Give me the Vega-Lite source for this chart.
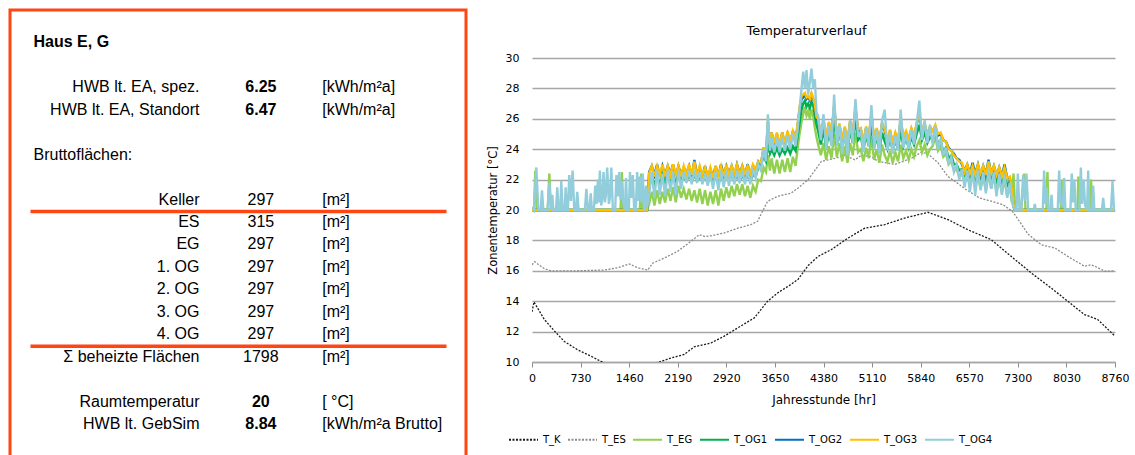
{
  "$schema": "https://vega.github.io/schema/vega-lite/v6.json",
  "background": "white",
  "padding": {"left": 8, "top": 8, "right": 0, "bottom": 0},
  "spacing": 19,
  "resolve": {"scale": {"color": "independent", "strokeDash": "independent"}, "legend": {"color": "independent", "strokeDash": "independent"}},
  "datasets": {
    "tabelle": [
      {"zeile": 0, "art": "kopf", "bezeichnung": "Haus E, G", "fett": true},
      {"zeile": 2, "art": "zeile", "bezeichnung": "HWB lt. EA, spez.", "wert": "6.25", "einheit": "[kWh/m²a]", "fett": true},
      {"zeile": 3, "art": "zeile", "bezeichnung": "HWB lt. EA, Standort", "wert": "6.47", "einheit": "[kWh/m²a]", "fett": true},
      {"zeile": 5, "art": "kopf", "bezeichnung": "Bruttoflächen:", "fett": false},
      {"zeile": 7, "art": "zeile", "bezeichnung": "Keller", "wert": "297", "einheit": "[m²]", "fett": false},
      {"zeile": 8, "art": "zeile", "bezeichnung": "ES", "wert": "315", "einheit": "[m²]", "fett": false, "linie": true},
      {"zeile": 9, "art": "zeile", "bezeichnung": "EG", "wert": "297", "einheit": "[m²]", "fett": false},
      {"zeile": 10, "art": "zeile", "bezeichnung": "1. OG", "wert": "297", "einheit": "[m²]", "fett": false},
      {"zeile": 11, "art": "zeile", "bezeichnung": "2. OG", "wert": "297", "einheit": "[m²]", "fett": false},
      {"zeile": 12, "art": "zeile", "bezeichnung": "3. OG", "wert": "297", "einheit": "[m²]", "fett": false},
      {"zeile": 13, "art": "zeile", "bezeichnung": "4. OG", "wert": "297", "einheit": "[m²]", "fett": false},
      {"zeile": 14, "art": "zeile", "bezeichnung": "Σ beheizte Flächen", "wert": "1798", "einheit": "[m²]", "fett": false, "linie": true},
      {"zeile": 16, "art": "zeile", "bezeichnung": "Raumtemperatur", "wert": "20", "einheit": "[ °C]", "fett": true},
      {"zeile": 17, "art": "zeile", "bezeichnung": "HWB lt. GebSim", "wert": "8.84", "einheit": "[kWh/m²a Brutto]", "fett": true}
    ],
    "aussen": [
      {"h": 0, "T_K": 13.3, "T_ES": 16.4}, {"h": 30, "T_K": 13.95}, {"h": 40, "T_ES": 16.6}, {"h": 85, "T_ES": 16.45},
      {"h": 185, "T_K": 12.8, "T_ES": 16.14}, {"h": 285, "T_ES": 16.0}, {"h": 335, "T_K": 12.05}, {"h": 486, "T_K": 11.35},
      {"h": 686, "T_K": 10.8, "T_ES": 16.0}, {"h": 887, "T_K": 10.38}, {"h": 1037, "T_K": 10.04}, {"h": 1087, "T_ES": 16.05},
      {"h": 1200, "T_K": 9.8}, {"h": 1287, "T_ES": 16.2}, {"h": 1450, "T_K": 9.7}, {"h": 1462, "T_ES": 16.45},
      {"h": 1587, "T_ES": 16.2}, {"h": 1700, "T_K": 9.8}, {"h": 1738, "T_ES": 16.05}, {"h": 1813, "T_ES": 16.5},
      {"h": 1913, "T_K": 10.0}, {"h": 1988, "T_ES": 16.84}, {"h": 2088, "T_K": 10.26}, {"h": 2188, "T_ES": 17.28},
      {"h": 2288, "T_K": 10.5}, {"h": 2388, "T_ES": 17.94}, {"h": 2438, "T_K": 11.0}, {"h": 2513, "T_ES": 18.38},
      {"h": 2600, "T_ES": 18.25}, {"h": 2689, "T_K": 11.25, "T_ES": 18.3}, {"h": 2889, "T_K": 11.7, "T_ES": 18.49},
      {"h": 3090, "T_K": 12.24, "T_ES": 18.8}, {"h": 3290, "T_ES": 19.04}, {"h": 3340, "T_K": 12.9}, {"h": 3390, "T_ES": 19.26},
      {"h": 3450, "T_ES": 19.8}, {"h": 3540, "T_K": 14.0, "T_ES": 20.57}, {"h": 3690, "T_K": 14.54, "T_ES": 20.9},
      {"h": 3890, "T_K": 15.1, "T_ES": 21.1}, {"h": 4000, "T_K": 15.45, "T_ES": 21.45}, {"h": 4150, "T_K": 16.35, "T_ES": 22.0},
      {"h": 4300, "T_K": 16.95}, {"h": 4349, "T_ES": 23.2}, {"h": 4500, "T_K": 17.4}, {"h": 4550, "T_ES": 23.4},
      {"h": 4700, "T_ES": 23.6}, {"h": 4750, "T_K": 18.16}, {"h": 4850, "T_ES": 23.3}, {"h": 4950, "T_ES": 23.6},
      {"h": 5000, "T_K": 18.8}, {"h": 5100, "T_ES": 23.5}, {"h": 5200, "T_ES": 23.2}, {"h": 5300, "T_K": 19.04},
      {"h": 5450, "T_ES": 23.0}, {"h": 5600, "T_K": 19.47}, {"h": 5700, "T_ES": 23.4}, {"h": 5850, "T_ES": 23.8},
      {"h": 5950, "T_K": 19.85, "T_ES": 23.7}, {"h": 6102, "T_ES": 23.1}, {"h": 6250, "T_K": 19.37, "T_ES": 22.2},
      {"h": 6352, "T_ES": 21.9}, {"h": 6503, "T_ES": 21.4}, {"h": 6550, "T_K": 18.7}, {"h": 6720, "T_ES": 20.8},
      {"h": 6900, "T_K": 18.05}, {"h": 7072, "T_ES": 20.36}, {"h": 7200, "T_K": 16.95}, {"h": 7222, "T_ES": 19.9},
      {"h": 7456, "T_ES": 18.4}, {"h": 7500, "T_K": 15.86}, {"h": 7656, "T_ES": 17.7}, {"h": 7800, "T_K": 14.87},
      {"h": 7857, "T_ES": 17.5}, {"h": 8050, "T_K": 14.0, "T_ES": 16.95}, {"h": 8300, "T_K": 13.12, "T_ES": 16.3},
      {"h": 8400, "T_ES": 16.4}, {"h": 8458, "T_ES": 16.3}, {"h": 8500, "T_K": 12.8}, {"h": 8608, "T_ES": 15.97},
      {"h": 8760, "T_K": 11.7, "T_ES": 16.0}
    ],
    "zonen": [
      {"h": 0, "T_EG": 20, "T_OG1": 20, "T_OG2": 20, "T_OG3": 20, "T_OG4": 20.2},
      {"h": 30, "T_EG": 20, "T_OG4": 20}, {"h": 50, "T_EG": 22.6}, {"h": 65, "T_OG4": 22.8}, {"h": 75, "T_EG": 20},
      {"h": 95, "T_OG4": 20}, {"h": 130, "T_OG4": 20}, {"h": 150, "T_OG4": 21.3}, {"h": 170, "T_OG4": 20},
      {"h": 235, "T_EG": 20, "T_OG4": 20}, {"h": 260, "T_EG": 22.4, "T_OG4": 21.8}, {"h": 285, "T_EG": 20, "T_OG4": 20},
      {"h": 305, "T_OG4": 21.0}, {"h": 320, "T_OG4": 20}, {"h": 360, "T_OG4": 20}, {"h": 380, "T_OG4": 21.5},
      {"h": 400, "T_OG4": 20}, {"h": 425, "T_OG4": 20}, {"h": 440, "T_OG4": 21.9}, {"h": 460, "T_OG4": 20},
      {"h": 490, "T_OG4": 20}, {"h": 506, "T_OG4": 21.5}, {"h": 522, "T_OG4": 20}, {"h": 540, "T_OG4": 20},
      {"h": 560, "T_OG4": 22.3}, {"h": 585, "T_OG4": 20.6}, {"h": 610, "T_OG4": 22.6}, {"h": 635, "T_OG4": 20},
      {"h": 660, "T_OG4": 20}, {"h": 680, "T_OG4": 21.2}, {"h": 700, "T_OG4": 20}, {"h": 795, "T_OG4": 20},
      {"h": 817, "T_OG4": 21.4}, {"h": 840, "T_OG4": 20}, {"h": 865, "T_OG4": 20}, {"h": 882, "T_OG4": 21.1},
      {"h": 900, "T_OG4": 20}, {"h": 930, "T_OG4": 20}, {"h": 950, "T_OG4": 21.6}, {"h": 970, "T_OG4": 20.4},
      {"h": 990, "T_OG4": 22.0}, {"h": 1005, "T_OG4": 20.5}, {"h": 1020, "T_OG4": 22.6}, {"h": 1040, "T_OG4": 20.3},
      {"h": 1058, "T_OG4": 20.8}, {"h": 1075, "T_OG4": 22.5}, {"h": 1095, "T_OG4": 20.5}, {"h": 1110, "T_OG4": 21.0},
      {"h": 1130, "T_OG4": 22.8}, {"h": 1155, "T_OG4": 20.4}, {"h": 1170, "T_OG4": 20.8}, {"h": 1192, "T_OG4": 22.8},
      {"h": 1215, "T_OG4": 20}, {"h": 1250, "T_OG4": 20}, {"h": 1268, "T_OG4": 22.3}, {"h": 1290, "T_OG4": 20.9},
      {"h": 1310, "T_OG4": 22.5}, {"h": 1330, "T_EG": 20, "T_OG4": 20.7}, {"h": 1350, "T_EG": 22.5, "T_OG4": 21.9},
      {"h": 1370, "T_EG": 20, "T_OG4": 20.5}, {"h": 1395, "T_OG4": 20}, {"h": 1413, "T_OG4": 22.1}, {"h": 1430, "T_OG4": 20},
      {"h": 1455, "T_OG4": 20}, {"h": 1472, "T_OG4": 22.5}, {"h": 1490, "T_OG4": 20.8}, {"h": 1515, "T_OG4": 22.3},
      {"h": 1535, "T_OG4": 20}, {"h": 1560, "T_OG4": 20}, {"h": 1580, "T_OG4": 22.5}, {"h": 1600, "T_OG4": 20.6},
      {"h": 1620, "T_EG": 20, "T_OG4": 22.2}, {"h": 1640, "T_EG": 22.4}, {"h": 1645, "T_OG4": 20.5}, {"h": 1660, "T_EG": 20},
      {"h": 1665, "T_OG4": 22.4}, {"h": 1685, "T_OG4": 20}, {"h": 1700, "T_OG4": 20}, {"h": 1713, "T_OG4": 21.6},
      {"h": 1730, "T_EG": 20, "T_OG1": 20, "T_OG2": 20, "T_OG3": 20, "T_OG4": 20.2},
      {"h": 1760, "T_EG": 20.4, "T_OG1": 21.8, "T_OG2": 22.5, "T_OG3": 22.4, "T_OG4": 21.0},
      {"h": 1800, "T_EG": 21.2, "T_OG1": 22.2, "T_OG2": 22.9, "T_OG3": 22.9, "T_OG4": 22.5},
      {"h": 1840, "T_EG": 20.3, "T_OG1": 21.6, "T_OG2": 22.3, "T_OG3": 22.2, "T_OG4": 20.8},
      {"h": 1880, "T_EG": 21.3, "T_OG1": 22.2, "T_OG2": 23.0, "T_OG3": 22.9, "T_OG4": 22.6},
      {"h": 1920, "T_EG": 20.4, "T_OG1": 21.7, "T_OG2": 22.2, "T_OG3": 22.3, "T_OG4": 21.0},
      {"h": 1960, "T_EG": 21.2, "T_OG1": 22.3, "T_OG2": 22.9, "T_OG3": 23.0, "T_OG4": 22.4},
      {"h": 2000, "T_EG": 20.5, "T_OG1": 21.8, "T_OG2": 22.3, "T_OG3": 22.2, "T_OG4": 20.9},
      {"h": 2040, "T_EG": 21.4, "T_OG1": 22.3, "T_OG2": 22.9, "T_OG3": 22.9, "T_OG4": 22.6},
      {"h": 2080, "T_EG": 20.6, "T_OG1": 21.8, "T_OG2": 22.4, "T_OG3": 22.3, "T_OG4": 21.2},
      {"h": 2120, "T_EG": 21.5, "T_OG1": 22.3, "T_OG2": 23.0, "T_OG3": 23.0, "T_OG4": 22.5},
      {"h": 2160, "T_EG": 20.5, "T_OG1": 21.9, "T_OG2": 22.2, "T_OG3": 22.3, "T_OG4": 21.0},
      {"h": 2200, "T_EG": 21.6, "T_OG1": 22.3, "T_OG2": 22.9, "T_OG3": 22.9, "T_OG4": 22.6},
      {"h": 2240, "T_EG": 20.8, "T_OG1": 21.9, "T_OG2": 22.3, "T_OG3": 22.2, "T_OG4": 21.4},
      {"h": 2280, "T_EG": 21.4, "T_OG1": 22.2, "T_OG2": 22.8, "T_OG3": 22.9, "T_OG4": 22.5},
      {"h": 2320, "T_EG": 20.7, "T_OG1": 21.9, "T_OG2": 22.4, "T_OG3": 22.3, "T_OG4": 21.8},
      {"h": 2360, "T_EG": 21.4, "T_OG1": 22.3, "T_OG2": 22.9, "T_OG3": 23.0, "T_OG4": 22.6},
      {"h": 2400, "T_EG": 20.6, "T_OG1": 21.9, "T_OG2": 22.2, "T_OG3": 22.3, "T_OG4": 21.7},
      {"h": 2440, "T_EG": 21.3, "T_OG1": 22.3, "T_OG2": 23.3, "T_OG3": 23.2, "T_OG4": 22.6},
      {"h": 2480, "T_EG": 20.5, "T_OG1": 21.9, "T_OG2": 22.3, "T_OG3": 22.2, "T_OG4": 21.8},
      {"h": 2520, "T_EG": 21.4, "T_OG1": 22.2, "T_OG2": 22.8, "T_OG3": 22.9, "T_OG4": 22.5},
      {"h": 2560, "T_EG": 20.4, "T_OG1": 21.9, "T_OG2": 22.2, "T_OG3": 22.3, "T_OG4": 21.7},
      {"h": 2600, "T_EG": 21.3, "T_OG1": 22.2, "T_OG2": 22.9, "T_OG3": 22.8, "T_OG4": 22.4},
      {"h": 2640, "T_EG": 20.3, "T_OG1": 21.8, "T_OG2": 22.1, "T_OG3": 22.2, "T_OG4": 21.6},
      {"h": 2680, "T_EG": 21.2, "T_OG1": 22.2, "T_OG2": 22.7, "T_OG3": 22.8, "T_OG4": 22.4},
      {"h": 2720, "T_EG": 20.4, "T_OG1": 21.8, "T_OG2": 22.2, "T_OG3": 22.1, "T_OG4": 21.4},
      {"h": 2760, "T_EG": 21.3, "T_OG1": 22.2, "T_OG2": 22.9, "T_OG3": 22.9, "T_OG4": 22.5},
      {"h": 2800, "T_EG": 20.3, "T_OG1": 21.7, "T_OG2": 22.2, "T_OG3": 22.3, "T_OG4": 21.3},
      {"h": 2840, "T_EG": 21.4, "T_OG1": 22.3, "T_OG2": 23.0, "T_OG3": 22.9, "T_OG4": 22.6},
      {"h": 2880, "T_EG": 20.6, "T_OG1": 21.8, "T_OG2": 22.3, "T_OG3": 22.2, "T_OG4": 21.5},
      {"h": 2920, "T_EG": 21.5, "T_OG1": 22.3, "T_OG2": 22.9, "T_OG3": 23.0, "T_OG4": 22.6},
      {"h": 2960, "T_EG": 20.8, "T_OG1": 21.9, "T_OG2": 22.4, "T_OG3": 22.3, "T_OG4": 21.6},
      {"h": 3000, "T_EG": 21.6, "T_OG1": 22.3, "T_OG2": 22.9, "T_OG3": 22.9, "T_OG4": 22.6},
      {"h": 3040, "T_EG": 20.9, "T_OG1": 21.9, "T_OG2": 22.3, "T_OG3": 22.4, "T_OG4": 21.7},
      {"h": 3080, "T_EG": 21.7, "T_OG1": 22.3, "T_OG2": 23.0, "T_OG3": 23.0, "T_OG4": 22.6},
      {"h": 3120, "T_EG": 21.0, "T_OG1": 21.9, "T_OG2": 22.4, "T_OG3": 22.3, "T_OG4": 21.8},
      {"h": 3160, "T_EG": 21.7, "T_OG1": 22.3, "T_OG2": 22.9, "T_OG3": 22.9, "T_OG4": 22.6},
      {"h": 3200, "T_EG": 20.9, "T_OG1": 21.9, "T_OG2": 22.3, "T_OG3": 22.4, "T_OG4": 21.7},
      {"h": 3240, "T_EG": 21.6, "T_OG1": 22.3, "T_OG2": 23.0, "T_OG3": 22.9, "T_OG4": 22.6},
      {"h": 3280, "T_EG": 20.8, "T_OG1": 21.9, "T_OG2": 22.3, "T_OG3": 22.4, "T_OG4": 21.7},
      {"h": 3320, "T_EG": 21.6, "T_OG1": 22.3, "T_OG2": 22.9, "T_OG3": 23.0, "T_OG4": 22.6},
      {"h": 3360, "T_EG": 21.2, "T_OG1": 22.2, "T_OG2": 22.6, "T_OG3": 22.6, "T_OG4": 22.1},
      {"h": 3400, "T_EG": 22.0, "T_OG1": 22.8, "T_OG2": 23.2, "T_OG3": 23.2, "T_OG4": 23.0},
      {"h": 3440, "T_EG": 21.9, "T_OG1": 23.0, "T_OG2": 23.0, "T_OG3": 23.1, "T_OG4": 22.6},
      {"h": 3480, "T_EG": 22.8, "T_OG1": 23.5, "T_OG2": 24.1, "T_OG3": 24.1, "T_OG4": 24.0},
      {"h": 3515, "T_EG": 22.5, "T_OG1": 23.2, "T_OG2": 23.5, "T_OG3": 23.6, "T_OG4": 23.2},
      {"h": 3545, "T_EG": 23.6, "T_OG1": 24.4, "T_OG2": 25.8, "T_OG3": 25.9, "T_OG4": 26.3},
      {"h": 3575, "T_EG": 22.6, "T_OG1": 23.7, "T_OG2": 24.2, "T_OG3": 24.3, "T_OG4": 23.9},
      {"h": 3600, "T_EG": 23.4, "T_OG1": 24.0, "T_OG2": 25.1, "T_OG3": 25.1, "T_OG4": 24.8},
      {"h": 3640, "T_EG": 22.4, "T_OG1": 23.6, "T_OG2": 24.3, "T_OG3": 24.4, "T_OG4": 23.8},
      {"h": 3680, "T_EG": 23.3, "T_OG1": 24.1, "T_OG2": 25.0, "T_OG3": 25.1, "T_OG4": 24.8},
      {"h": 3720, "T_EG": 22.4, "T_OG1": 23.6, "T_OG2": 24.2, "T_OG3": 24.3, "T_OG4": 23.8},
      {"h": 3760, "T_EG": 23.3, "T_OG1": 24.0, "T_OG2": 25.1, "T_OG3": 25.1, "T_OG4": 24.8},
      {"h": 3800, "T_EG": 22.5, "T_OG1": 23.7, "T_OG2": 24.3, "T_OG3": 24.4, "T_OG4": 23.9},
      {"h": 3840, "T_EG": 23.4, "T_OG1": 24.1, "T_OG2": 25.0, "T_OG3": 25.2, "T_OG4": 24.9},
      {"h": 3880, "T_EG": 22.5, "T_OG1": 23.7, "T_OG2": 24.4, "T_OG3": 24.5, "T_OG4": 24.0},
      {"h": 3920, "T_EG": 23.5, "T_OG1": 24.2, "T_OG2": 25.2, "T_OG3": 25.2, "T_OG4": 25.0},
      {"h": 3960, "T_EG": 22.9, "T_OG1": 23.9, "T_OG2": 24.6, "T_OG3": 24.7, "T_OG4": 24.2},
      {"h": 3990, "T_EG": 24.0, "T_OG1": 24.8, "T_OG2": 25.5, "T_OG3": 25.6, "T_OG4": 25.2},
      {"h": 4020, "T_EG": 25.0, "T_OG1": 25.7, "T_OG2": 26.6, "T_OG3": 26.8, "T_OG4": 26.6},
      {"h": 4050, "T_EG": 25.8, "T_OG1": 26.6, "T_OG2": 27.3, "T_OG3": 27.5, "T_OG4": 28.0},
      {"h": 4075, "T_EG": 26.3, "T_OG1": 27.0, "T_OG2": 27.4, "T_OG3": 27.6, "T_OG4": 29.1},
      {"h": 4100, "T_EG": 26.8, "T_OG1": 27.2, "T_OG2": 27.6, "T_OG3": 27.7, "T_OG4": 28.0},
      {"h": 4125, "T_EG": 26.2, "T_OG1": 26.8, "T_OG2": 27.3, "T_OG3": 27.4, "T_OG4": 29.2},
      {"h": 4150, "T_EG": 26.5, "T_OG1": 27.0, "T_OG2": 27.4, "T_OG3": 27.5, "T_OG4": 27.6},
      {"h": 4175, "T_EG": 26.0, "T_OG1": 26.7, "T_OG2": 27.2, "T_OG3": 27.3, "T_OG4": 28.4},
      {"h": 4200, "T_EG": 26.6, "T_OG1": 27.1, "T_OG2": 27.6, "T_OG3": 27.7, "T_OG4": 29.3},
      {"h": 4225, "T_EG": 26.2, "T_OG1": 26.9, "T_OG2": 27.3, "T_OG3": 27.4, "T_OG4": 28.0},
      {"h": 4250, "T_EG": 25.4, "T_OG1": 26.2, "T_OG2": 26.8, "T_OG3": 26.9, "T_OG4": 28.6},
      {"h": 4275, "T_EG": 24.8, "T_OG1": 25.6, "T_OG2": 26.0, "T_OG3": 26.1, "T_OG4": 26.4},
      {"h": 4300, "T_EG": 24.3, "T_OG1": 25.2, "T_OG2": 25.9, "T_OG3": 26.0, "T_OG4": 26.2},
      {"h": 4340, "T_EG": 23.6, "T_OG1": 24.3, "T_OG2": 24.8, "T_OG3": 24.9, "T_OG4": 24.6},
      {"h": 4380, "T_EG": 24.4, "T_OG1": 25.3, "T_OG2": 25.9, "T_OG3": 26.0, "T_OG4": 26.3},
      {"h": 4420, "T_EG": 23.3, "T_OG1": 24.1, "T_OG2": 24.6, "T_OG3": 24.7, "T_OG4": 24.0},
      {"h": 4460, "T_EG": 24.2, "T_OG1": 25.0, "T_OG2": 25.7, "T_OG3": 25.8, "T_OG4": 25.6},
      {"h": 4500, "T_EG": 23.4, "T_OG1": 24.4, "T_OG2": 25.0, "T_OG3": 25.1, "T_OG4": 24.2},
      {"h": 4540, "T_EG": 25.0, "T_OG1": 26.0, "T_OG2": 26.8, "T_OG3": 26.9, "T_OG4": 27.6},
      {"h": 4580, "T_EG": 23.5, "T_OG1": 24.3, "T_OG2": 24.8, "T_OG3": 24.9, "T_OG4": 24.2},
      {"h": 4620, "T_EG": 24.4, "T_OG1": 25.2, "T_OG2": 25.6, "T_OG3": 25.7, "T_OG4": 25.6},
      {"h": 4660, "T_EG": 23.2, "T_OG1": 24.0, "T_OG2": 24.5, "T_OG3": 24.6, "T_OG4": 23.7},
      {"h": 4700, "T_EG": 24.2, "T_OG1": 25.0, "T_OG2": 25.4, "T_OG3": 25.5, "T_OG4": 25.3},
      {"h": 4740, "T_EG": 23.1, "T_OG1": 23.9, "T_OG2": 24.4, "T_OG3": 24.5, "T_OG4": 23.6},
      {"h": 4780, "T_EG": 24.4, "T_OG1": 25.3, "T_OG2": 25.8, "T_OG3": 25.9, "T_OG4": 25.9},
      {"h": 4820, "T_EG": 23.6, "T_OG1": 24.4, "T_OG2": 24.9, "T_OG3": 25.0, "T_OG4": 24.4},
      {"h": 4860, "T_EG": 25.1, "T_OG1": 26.0, "T_OG2": 26.7, "T_OG3": 26.8, "T_OG4": 27.3},
      {"h": 4900, "T_EG": 23.8, "T_OG1": 24.6, "T_OG2": 25.2, "T_OG3": 25.3, "T_OG4": 24.8},
      {"h": 4940, "T_EG": 24.0, "T_OG1": 24.8, "T_OG2": 25.3, "T_OG3": 25.4, "T_OG4": 25.2},
      {"h": 4980, "T_EG": 23.2, "T_OG1": 24.0, "T_OG2": 24.4, "T_OG3": 24.5, "T_OG4": 23.8},
      {"h": 5020, "T_EG": 24.1, "T_OG1": 24.9, "T_OG2": 25.4, "T_OG3": 25.5, "T_OG4": 25.4},
      {"h": 5060, "T_EG": 23.4, "T_OG1": 24.2, "T_OG2": 24.7, "T_OG3": 24.8, "T_OG4": 24.2},
      {"h": 5100, "T_EG": 24.8, "T_OG1": 25.6, "T_OG2": 26.3, "T_OG3": 26.4, "T_OG4": 26.9},
      {"h": 5140, "T_EG": 23.3, "T_OG1": 24.1, "T_OG2": 24.6, "T_OG3": 24.7, "T_OG4": 24.0},
      {"h": 5180, "T_EG": 24.0, "T_OG1": 24.8, "T_OG2": 25.3, "T_OG3": 25.4, "T_OG4": 25.3},
      {"h": 5220, "T_EG": 23.1, "T_OG1": 23.9, "T_OG2": 24.4, "T_OG3": 24.5, "T_OG4": 23.7},
      {"h": 5260, "T_EG": 24.3, "T_OG1": 25.1, "T_OG2": 25.7, "T_OG3": 25.8, "T_OG4": 25.9},
      {"h": 5300, "T_EG": 23.6, "T_OG1": 24.5, "T_OG2": 25.2, "T_OG3": 25.3, "T_OG4": 26.6},
      {"h": 5340, "T_EG": 23.2, "T_OG1": 24.0, "T_OG2": 24.5, "T_OG3": 24.6, "T_OG4": 23.9},
      {"h": 5380, "T_EG": 23.9, "T_OG1": 24.7, "T_OG2": 25.2, "T_OG3": 25.3, "T_OG4": 25.1},
      {"h": 5420, "T_EG": 23.1, "T_OG1": 23.9, "T_OG2": 24.3, "T_OG3": 24.4, "T_OG4": 23.7},
      {"h": 5460, "T_EG": 23.8, "T_OG1": 24.6, "T_OG2": 25.0, "T_OG3": 25.1, "T_OG4": 24.9},
      {"h": 5500, "T_EG": 23.2, "T_OG1": 24.0, "T_OG2": 24.5, "T_OG3": 24.6, "T_OG4": 23.9},
      {"h": 5540, "T_EG": 24.3, "T_OG1": 25.2, "T_OG2": 25.9, "T_OG3": 26.0, "T_OG4": 26.6},
      {"h": 5580, "T_EG": 23.4, "T_OG1": 24.2, "T_OG2": 24.7, "T_OG3": 24.8, "T_OG4": 24.1},
      {"h": 5620, "T_EG": 23.9, "T_OG1": 24.7, "T_OG2": 25.1, "T_OG3": 25.2, "T_OG4": 25.0},
      {"h": 5660, "T_EG": 23.3, "T_OG1": 24.1, "T_OG2": 24.6, "T_OG3": 24.7, "T_OG4": 24.0},
      {"h": 5700, "T_EG": 24.0, "T_OG1": 24.8, "T_OG2": 25.3, "T_OG3": 25.4, "T_OG4": 25.3},
      {"h": 5740, "T_EG": 23.5, "T_OG1": 24.3, "T_OG2": 24.8, "T_OG3": 24.9, "T_OG4": 24.3},
      {"h": 5780, "T_EG": 24.2, "T_OG1": 25.0, "T_OG2": 25.6, "T_OG3": 25.7, "T_OG4": 25.7},
      {"h": 5820, "T_EG": 24.6, "T_OG1": 25.6, "T_OG2": 26.4, "T_OG3": 26.5, "T_OG4": 27.2},
      {"h": 5860, "T_EG": 23.8, "T_OG1": 24.6, "T_OG2": 25.0, "T_OG3": 25.1, "T_OG4": 24.6},
      {"h": 5900, "T_EG": 24.3, "T_OG1": 25.1, "T_OG2": 25.6, "T_OG3": 25.7, "T_OG4": 25.9},
      {"h": 5940, "T_EG": 23.6, "T_OG1": 24.4, "T_OG2": 24.9, "T_OG3": 25.0, "T_OG4": 24.4},
      {"h": 5980, "T_EG": 24.0, "T_OG1": 24.8, "T_OG2": 25.4, "T_OG3": 25.5, "T_OG4": 25.6},
      {"h": 6020, "T_EG": 24.2, "T_OG1": 24.6, "T_OG2": 25.2, "T_OG3": 25.2, "T_OG4": 24.3},
      {"h": 6060, "T_EG": 24.8, "T_OG1": 25.2, "T_OG2": 25.5, "T_OG3": 25.6, "T_OG4": 25.5},
      {"h": 6100, "T_EG": 23.9, "T_OG1": 24.3, "T_OG2": 24.9, "T_OG3": 25.0, "T_OG4": 24.0},
      {"h": 6140, "T_EG": 24.2, "T_OG1": 24.6, "T_OG2": 25.0, "T_OG3": 25.1, "T_OG4": 24.7},
      {"h": 6180, "T_EG": 23.5, "T_OG1": 23.8, "T_OG2": 24.6, "T_OG3": 24.6, "T_OG4": 23.6},
      {"h": 6220, "T_EG": 23.7, "T_OG1": 24.1, "T_OG2": 24.5, "T_OG3": 24.5, "T_OG4": 24.1},
      {"h": 6260, "T_EG": 23.0, "T_OG1": 23.4, "T_OG2": 24.1, "T_OG3": 24.0, "T_OG4": 23.0},
      {"h": 6300, "T_EG": 23.2, "T_OG1": 23.6, "T_OG2": 23.9, "T_OG3": 23.9, "T_OG4": 23.5},
      {"h": 6340, "T_EG": 22.6, "T_OG1": 23.0, "T_OG2": 23.7, "T_OG3": 23.6, "T_OG4": 22.5},
      {"h": 6380, "T_EG": 22.7, "T_OG1": 23.0, "T_OG2": 23.4, "T_OG3": 23.4, "T_OG4": 23.0},
      {"h": 6420, "T_EG": 22.2, "T_OG1": 22.6, "T_OG2": 23.3, "T_OG3": 23.2, "T_OG4": 22.0},
      {"h": 6460, "T_EG": 22.4, "T_OG1": 22.7, "T_OG2": 23.0, "T_OG3": 23.1, "T_OG4": 22.7},
      {"h": 6500, "T_EG": 21.8, "T_OG1": 22.3, "T_OG2": 22.6, "T_OG3": 22.5, "T_OG4": 21.5},
      {"h": 6540, "T_EG": 22.3, "T_OG1": 22.6, "T_OG2": 23.0, "T_OG3": 23.0, "T_OG4": 22.6},
      {"h": 6580, "T_EG": 21.6, "T_OG1": 22.2, "T_OG2": 22.4, "T_OG3": 22.4, "T_OG4": 21.2},
      {"h": 6620, "T_EG": 22.3, "T_OG1": 22.6, "T_OG2": 23.1, "T_OG3": 22.9, "T_OG4": 22.6},
      {"h": 6660, "T_EG": 21.5, "T_OG1": 22.1, "T_OG2": 22.4, "T_OG3": 22.3, "T_OG4": 21.0},
      {"h": 6700, "T_EG": 22.3, "T_OG1": 22.6, "T_OG2": 23.0, "T_OG3": 23.0, "T_OG4": 22.6},
      {"h": 6740, "T_EG": 21.4, "T_OG1": 22.0, "T_OG2": 22.3, "T_OG3": 22.4, "T_OG4": 21.3},
      {"h": 6780, "T_EG": 22.2, "T_OG1": 22.5, "T_OG2": 22.9, "T_OG3": 22.9, "T_OG4": 22.5},
      {"h": 6820, "T_EG": 21.3, "T_OG1": 22.0, "T_OG2": 22.4, "T_OG3": 22.3, "T_OG4": 21.1},
      {"h": 6860, "T_EG": 22.4, "T_OG1": 22.7, "T_OG2": 23.3, "T_OG3": 23.2, "T_OG4": 22.7},
      {"h": 6900, "T_EG": 21.4, "T_OG1": 22.0, "T_OG2": 22.4, "T_OG3": 22.4, "T_OG4": 21.4},
      {"h": 6940, "T_EG": 22.2, "T_OG1": 22.5, "T_OG2": 22.9, "T_OG3": 22.9, "T_OG4": 22.5},
      {"h": 6980, "T_EG": 21.2, "T_OG1": 21.9, "T_OG2": 22.3, "T_OG3": 22.3, "T_OG4": 20.9},
      {"h": 7020, "T_EG": 22.1, "T_OG1": 22.4, "T_OG2": 22.8, "T_OG3": 22.8, "T_OG4": 22.4},
      {"h": 7060, "T_EG": 21.1, "T_OG1": 21.8, "T_OG2": 22.2, "T_OG3": 22.2, "T_OG4": 21.0},
      {"h": 7100, "T_EG": 22.0, "T_OG1": 22.3, "T_OG2": 23.0, "T_OG3": 22.8, "T_OG4": 22.4},
      {"h": 7140, "T_EG": 20.9, "T_OG1": 21.6, "T_OG2": 22.1, "T_OG3": 22.1, "T_OG4": 20.8},
      {"h": 7180, "T_EG": 21.6, "T_OG1": 21.9, "T_OG2": 22.1, "T_OG3": 22.2, "T_OG4": 21.8},
      {"h": 7210, "T_EG": 20.5, "T_OG1": 20.8, "T_OG2": 21.2, "T_OG3": 21.4, "T_OG4": 20.6},
      {"h": 7235, "T_EG": 22.4, "T_OG1": 20.2, "T_OG2": 20.3, "T_OG3": 20.4, "T_OG4": 20.2},
      {"h": 7260, "T_EG": 20, "T_OG1": 20, "T_OG2": 20, "T_OG3": 20, "T_OG4": 20},
      {"h": 7280, "T_OG4": 20}, {"h": 7300, "T_OG4": 22.4}, {"h": 7325, "T_OG4": 20}, {"h": 7350, "T_EG": 20, "T_OG4": 20},
      {"h": 7380, "T_OG4": 22.3}, {"h": 7395, "T_EG": 22.4}, {"h": 7405, "T_OG4": 20.6}, {"h": 7415, "T_EG": 20},
      {"h": 7430, "T_OG4": 22.4}, {"h": 7455, "T_OG4": 20}, {"h": 7540, "T_OG4": 20}, {"h": 7555, "T_OG4": 20.4},
      {"h": 7570, "T_OG4": 20}, {"h": 7675, "T_OG4": 20}, {"h": 7695, "T_OG4": 22.6}, {"h": 7715, "T_OG4": 20.4},
      {"h": 7730, "T_EG": 20}, {"h": 7735, "T_OG4": 21.5}, {"h": 7745, "T_EG": 22.5}, {"h": 7755, "T_OG4": 20},
      {"h": 7760, "T_EG": 20}, {"h": 7790, "T_OG4": 20}, {"h": 7806, "T_OG4": 21.0}, {"h": 7820, "T_OG4": 20},
      {"h": 7900, "T_OG4": 20}, {"h": 7921, "T_OG4": 22.6}, {"h": 7940, "T_OG4": 20.5}, {"h": 7945, "T_EG": 20},
      {"h": 7960, "T_EG": 22.0}, {"h": 7975, "T_EG": 20, "T_OG4": 20.3}, {"h": 7996, "T_OG4": 22.1}, {"h": 8015, "T_OG4": 20},
      {"h": 8090, "T_OG4": 20}, {"h": 8110, "T_OG4": 22.4}, {"h": 8130, "T_OG4": 20.5}, {"h": 8150, "T_OG4": 22.0},
      {"h": 8170, "T_OG4": 20}, {"h": 8195, "T_EG": 20}, {"h": 8210, "T_EG": 22.2}, {"h": 8225, "T_EG": 20, "T_OG4": 20},
      {"h": 8247, "T_OG4": 22.8}, {"h": 8265, "T_OG4": 20.4}, {"h": 8290, "T_OG4": 22.0}, {"h": 8310, "T_OG4": 20.3},
      {"h": 8340, "T_OG4": 20}, {"h": 8357, "T_OG4": 22.6}, {"h": 8375, "T_OG4": 20}, {"h": 8385, "T_EG": 20},
      {"h": 8400, "T_EG": 22.0}, {"h": 8415, "T_EG": 20, "T_OG4": 20}, {"h": 8432, "T_OG4": 21.6}, {"h": 8450, "T_OG4": 20},
      {"h": 8565, "T_OG4": 20}, {"h": 8582, "T_OG4": 20.8}, {"h": 8600, "T_OG4": 20}, {"h": 8700, "T_OG4": 20},
      {"h": 8723, "T_OG4": 21.9}, {"h": 8745, "T_OG4": 20},
      {"h": 8760, "T_EG": 20, "T_OG1": 20, "T_OG2": 20, "T_OG3": 20, "T_OG4": 20}
    ]
  },
  "hconcat": [
    {
      "width": 456,
      "height": 460,
      "view": {"stroke": "#ff4512", "strokeWidth": 3},
      "data": {"name": "tabelle"},
      "encoding": {
        "y": {"field": "zeile", "type": "quantitative", "scale": {"domain": [0, 18], "range": [21.9, 426], "nice": false, "zero": false}, "axis": null}
      },
      "layer": [
        {
          "transform": [{"filter": "datum.linie === true"}],
          "mark": {"type": "rule", "color": "#ff4512", "strokeWidth": 3.5, "xOffset": -169, "x2Offset": 124.3},
          "encoding": {
            "x": {"datum": "Bezeichnung", "type": "nominal", "scale": {"type": "point", "domain": ["Bezeichnung", "Wert", "Einheit"], "range": [189.5, 312.2], "padding": 0}, "axis": null},
            "x2": {"datum": "Einheit"}
          }
        },
        {
          "transform": [{"filter": "datum.art === 'kopf' && datum.fett"}],
          "mark": {"type": "text", "font": "Liberation Sans", "fontSize": 16, "fontWeight": "bold", "align": "left", "baseline": "alphabetic", "dx": -166, "dy": 15.45, "color": "#000000"},
          "encoding": {"x": {"datum": "Bezeichnung", "type": "nominal"}, "text": {"field": "bezeichnung"}}
        },
        {
          "transform": [{"filter": "datum.art === 'kopf' && !datum.fett"}],
          "mark": {"type": "text", "font": "Liberation Sans", "fontSize": 16, "align": "left", "baseline": "alphabetic", "dx": -166, "dy": 15.45, "color": "#000000"},
          "encoding": {"x": {"datum": "Bezeichnung", "type": "nominal"}, "text": {"field": "bezeichnung"}}
        },
        {
          "transform": [{"filter": "datum.art === 'zeile'"}],
          "mark": {"type": "text", "font": "Liberation Sans", "fontSize": 16, "align": "right", "baseline": "alphabetic", "dy": 15.45, "color": "#000000"},
          "encoding": {"x": {"datum": "Bezeichnung", "type": "nominal"}, "text": {"field": "bezeichnung"}}
        },
        {
          "transform": [{"filter": "datum.art === 'zeile' && datum.fett"}],
          "mark": {"type": "text", "font": "Liberation Sans", "fontSize": 16, "fontWeight": "bold", "align": "center", "baseline": "alphabetic", "dy": 15.45, "color": "#000000"},
          "encoding": {"x": {"datum": "Wert", "type": "nominal"}, "text": {"field": "wert"}}
        },
        {
          "transform": [{"filter": "datum.art === 'zeile' && !datum.fett"}],
          "mark": {"type": "text", "font": "Liberation Sans", "fontSize": 16, "align": "center", "baseline": "alphabetic", "dy": 15.45, "color": "#000000"},
          "encoding": {"x": {"datum": "Wert", "type": "nominal"}, "text": {"field": "wert"}}
        },
        {
          "transform": [{"filter": "datum.art === 'zeile'"}],
          "mark": {"type": "text", "font": "Liberation Sans", "fontSize": 16, "align": "left", "baseline": "alphabetic", "dy": 15.45, "color": "#000000"},
          "encoding": {"x": {"datum": "Einheit", "type": "nominal"}, "text": {"field": "einheit"}}
        }
      ]
    },
    {
      "spacing": 0,
      "resolve": {"scale": {"color": "independent", "strokeDash": "independent"}, "legend": {"color": "independent", "strokeDash": "independent"}},
      "vconcat": [
        {
          "width": 583,
          "height": 14.2,
          "data": {"values": []},
          "mark": "point"
        },
        {
          "width": 583,
          "height": 304,
          "title": {"text": "Temperaturverlauf", "font": "DejaVu Sans", "fontSize": 13, "fontWeight": "normal", "color": "#000000", "lineHeight": 15.5, "offset": 13.7, "dx": -17, "anchor": "middle"},
          "encoding": {
            "x": {
              "field": "h", "type": "quantitative",
              "scale": {"domain": [0, 8760], "nice": false, "zero": false},
              "axis": {
                "title": "Jahresstunde [hr]",
                "values": [0, 730, 1460, 2190, 2920, 3650, 4380, 5110, 5840, 6570, 7300, 8030, 8760],
                "format": "d", "grid": false, "domain": true, "domainColor": "#a6a6a6", "domainWidth": 1.5,
                "ticks": true, "tickColor": "#8c8c8c", "tickSize": 5, "tickWidth": 1,
                "labelFont": "DejaVu Sans", "labelFontSize": 11, "labelColor": "#000000", "labelPadding": 5,
                "labelFlush": false, "labelOverlap": false,
                "titleFont": "DejaVu Sans", "titleFontSize": 12, "titleFontWeight": "normal", "titleColor": "#000000", "titlePadding": 11
              }
            },
            "y": {
              "field": "t", "type": "quantitative",
              "scale": {"domain": [10, 30], "nice": false, "zero": false},
              "axis": {
                "title": "Zonentemperatur [°C]",
                "values": [10, 12, 14, 16, 18, 20, 22, 24, 26, 28, 30],
                "grid": true, "gridColor": "#a6a6a6", "gridWidth": 1.5, "domain": false, "ticks": false,
                "labelFont": "DejaVu Sans", "labelFontSize": 11, "labelColor": "#000000", "labelPadding": 13,
                "titleFont": "DejaVu Sans", "titleFontSize": 11.5, "titleFontWeight": "normal", "titleColor": "#000000", "titlePadding": 7
              }
            },
            "color": {
              "field": "serie", "type": "nominal",
              "scale": {
                "domain": ["T_K", "T_ES", "T_EG", "T_OG1", "T_OG2", "T_OG3", "T_OG4"],
                "range": ["#1a1a1a", "#8c8c8c", "#92d050", "#00b050", "#0070c0", "#ffc000", "#92cddc"]
              },
              "legend": {"title": null}
            },
            "strokeDash": {
              "field": "serie", "type": "nominal",
              "scale": {
                "domain": ["T_K", "T_ES", "T_EG", "T_OG1", "T_OG2", "T_OG3", "T_OG4"],
                "range": [[2, 1.5], [2, 1.5], [1, 0], [1, 0], [1, 0], [1, 0], [1, 0]]
              },
              "legend": {"title": null}
            }
          },
          "layer": [
            {
              "data": {"name": "aussen"},
              "transform": [{"fold": ["T_K", "T_ES"], "as": ["serie", "t"]}, {"filter": "datum.t != null"}],
              "mark": {"type": "line", "strokeWidth": 1.3, "clip": true, "invalid": "filter"}
            },
            {
              "data": {"name": "zonen"},
              "transform": [{"fold": ["T_EG", "T_OG1", "T_OG2", "T_OG3", "T_OG4"], "as": ["serie", "t"]}, {"filter": "datum.t != null"}],
              "mark": {"type": "line", "strokeWidth": 2.4, "clip": true, "invalid": "filter"}
            }
          ]
        }
      ]
    }
  ],
  "config": {
    "view": {"stroke": null},
    "legend": {
      "orient": "none", "legendX": -24, "legendY": 366, "direction": "horizontal", "columns": 7,
      "symbolType": "stroke", "symbolSize": 841, "symbolStrokeWidth": 2,
      "labelFont": "DejaVu Sans", "labelFontSize": 10, "labelColor": "#000000", "labelOffset": 4,
      "columnPadding": 3, "padding": 0
    }
  }
}
